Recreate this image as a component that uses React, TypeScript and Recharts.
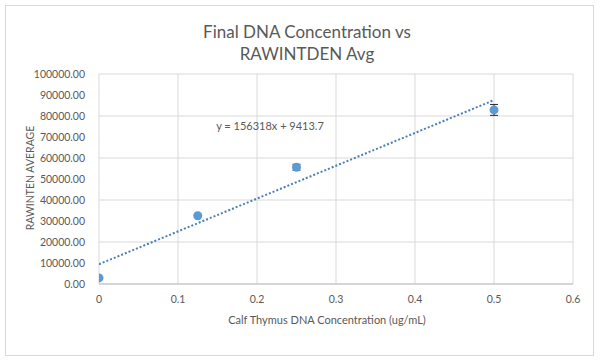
import React from 'react';
import { ComposedChart, Scatter, Line, XAxis, YAxis, CartesianGrid, ErrorBar } from 'recharts';

const concentrations = [0, 0.125, 0.25, 0.5];
const rawAverages = [2900, 32500, 55600, 82900];
const errors = [0, 0, 1400, 2600];

const trendX = [0, 0.5];
const trendY = [9413.7, 87572.7];

const xTicks = [0, 0.1, 0.2, 0.3, 0.4, 0.5, 0.6];
const yTicks = [0, 10000, 20000, 30000, 40000, 50000, 60000, 70000, 80000, 90000, 100000];

const title = ['Final DNA Concentration vs', 'RAWINTDEN Avg'];
const xLabel = 'Calf Thymus DNA Concentration (ug/mL)';
const yLabel = 'RAWINTEN  AVERAGE';
const equation = 'y = 156318x + 9413.7';

const points = concentrations.map((x, i) => ({ x, y: rawAverages[i], err: errors[i] }));
const trend = trendX.map((x, i) => ({ x, t: trendY[i] }));

const FONT = 'Lato, "Open Sans", sans-serif';
const TXT = '#595959';
const BLUE = '#5B9BD5';

export default function App() {
  return (
    <div style={{ position: 'absolute', left: 0, top: 0, width: 600, height: 363, background: '#fff' }}>
      <svg width={600} height={363} style={{ position: 'absolute', left: 0, top: 0 }}>
        <rect x={5.5} y={5.5} width={588} height={350} fill="#fff" stroke="#d9d9d9" strokeWidth={1} />
      </svg>
      <div style={{ position: 'absolute', left: 0, top: 0 }}>
        <ComposedChart width={600} height={363} margin={{ top: 74, right: 27, bottom: 49, left: 0 }}>
          <CartesianGrid stroke="#d9d9d9" />
          <XAxis
            type="number"
            dataKey="x"
            domain={[0, 0.6]}
            ticks={xTicks}
            tickFormatter={(v: number) => String(v)}
            stroke="#bfbfbf"
            tickLine={false}
            tick={{ fill: TXT, fontSize: 10.5, fontFamily: FONT }}
            tickMargin={6}
            height={30}
            allowDataOverflow
          />
          <YAxis
            type="number"
            domain={[0, 100000]}
            ticks={yTicks}
            width={99}
            tickFormatter={(v: number) => v.toFixed(2)}
            axisLine={false}
            tickLine={false}
            tick={{ fill: TXT, fontSize: 10.5, fontFamily: FONT }}
            tickMargin={8}
          />
          <Line
            data={trend}
            dataKey="t"
            stroke="#4A7EBB"
            strokeWidth={2}
            strokeDasharray="2 2"
            dot={false}
            activeDot={false}
            isAnimationActive={false}
            legendType="none"
          />
          <Scatter data={points} dataKey="y" fill={BLUE} isAnimationActive={false}
            shape={(p: any) => <circle cx={p.cx} cy={p.cy} r={4.5} fill={BLUE} />}>
            <ErrorBar dataKey="err" direction="y" width={4} stroke="#262626" strokeWidth={1} />
          </Scatter>
        </ComposedChart>
      </div>
      <svg width={600} height={363} style={{ position: 'absolute', left: 0, top: 0, pointerEvents: 'none' }}>
        <text x={307} y={38} textAnchor="middle" fontSize={17} fill={TXT} fontFamily={FONT}>{title[0]}</text>
        <text x={307} y={60} textAnchor="middle" fontSize={17} fill={TXT} fontFamily={FONT}>{title[1]}</text>
        <text x={327} y={324} textAnchor="middle" fontSize={11} fill={TXT} fontFamily={FONT}>{xLabel}</text>
        <text x={0} y={0} transform="translate(34,178) rotate(-90)" textAnchor="middle" fontSize={10.5} fill={TXT} fontFamily={FONT}>{yLabel}</text>
        <text x={270} y={130} textAnchor="middle" fontSize={11} fill={TXT} fontFamily={FONT}>{equation}</text>
      </svg>
    </div>
  );
}
